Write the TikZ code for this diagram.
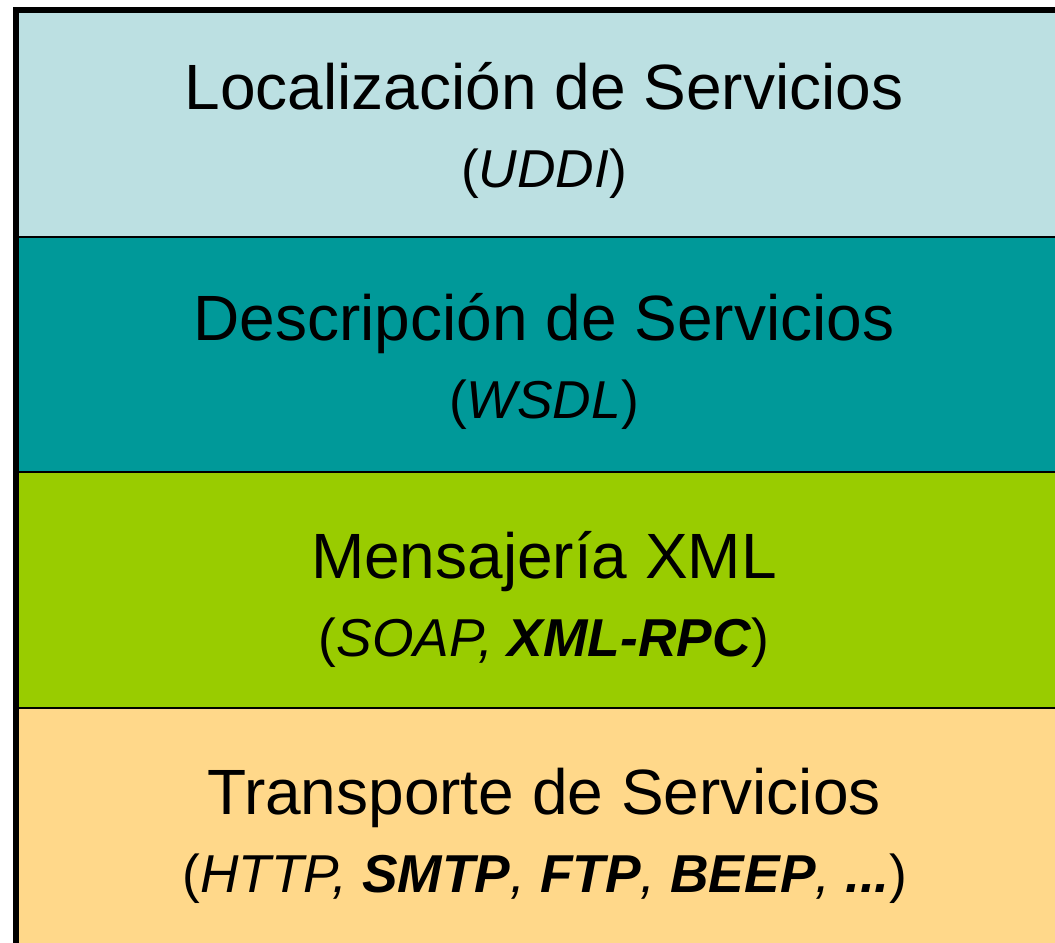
\documentclass[tikz,border=0pt]{standalone}
\usepackage{fontspec}
\setmainfont{Liberation Sans}
\definecolor{bandA}{HTML}{BCE0E2}
\definecolor{bandB}{HTML}{009999}
\definecolor{bandC}{HTML}{99CC00}
\definecolor{bandD}{HTML}{FFD88A}
\tikzset{
  maintext/.style={anchor=base, inner sep=0pt, font=\fontsize{48}{56}\selectfont},
  subtext/.style={anchor=base, inner sep=0pt, font=\fontsize{40}{47}\selectfont},
  divider/.style={draw=black, line width=1.5pt},
  frame/.style={draw=black, line width=4.5pt}
}
\begin{document}
\begin{tikzpicture}[x=0.75pt,y=-0.75pt]
\useasboundingbox (0,0) rectangle (1055,942);
\fill[white] (0,0) rectangle (1055,942);
\fill[bandA] (15,10) rectangle (1060,237);
\fill[bandB] (15,237) rectangle (1060,472);
\fill[bandC] (15,472) rectangle (1060,708);
\fill[bandD] (15,708) rectangle (1060,945);
\draw[divider] (15,237) -- (1060,237);
\draw[divider] (15,472) -- (1060,472);
\draw[divider] (15,708) -- (1060,708);
\draw[frame] (15.5,950) -- (15.5,10) -- (1060,10);
\node[maintext] (l1) at (544,109) {Localización de Servicios};
\node[subtext] (s1) at (544,187) {(\textit{UDDI})};
\node[maintext] (l2) at (544,340) {Descripción de Servicios};
\node[subtext] (s2) at (544,418) {(\textit{WSDL})};
\node[maintext] (l3) at (544,578) {Mensajería XML};
\node[subtext] (s3) at (544,656) {(\textit{SOAP, \textbf{XML-RPC}})};
\node[maintext] (l4) at (544,814) {Transporte de Servicios};
\node[subtext] (s4) at (545,892) {(\textit{HTTP, \textbf{SMTP}, \textbf{FTP}, \textbf{BEEP}, \textbf{...}})};
\end{tikzpicture}
\end{document}
